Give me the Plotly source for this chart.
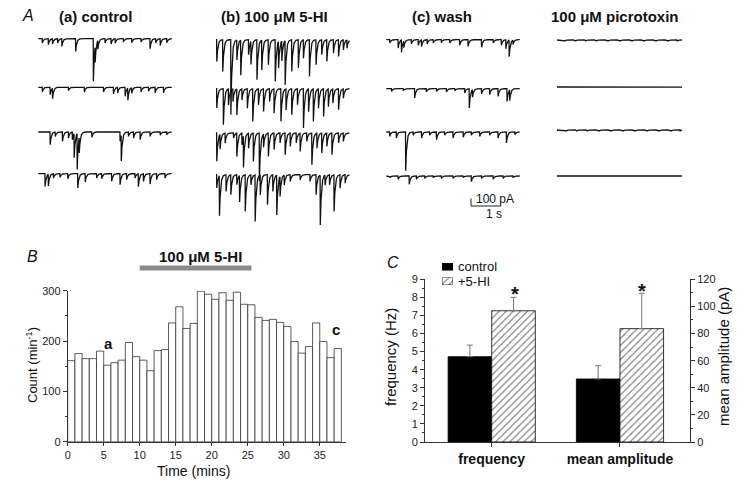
import numpy as np
import plotly.graph_objects as go

W, H = 750, 482
FONT = "Liberation Sans, Arial, sans-serif"

# ---------------- Panel A: event lists (time in s, amplitude in pA) ----------------
ctrl_t = [
    [0.13,0.33,0.47,0.64,0.78,1.24,1.83,1.89,1.98,2.22,2.42,2.56,2.83,3.11,3.42,3.72,3.91,4.06,4.28],
    [0.13,0.39,0.47,1.00,1.53,2.17,2.50,2.64,2.89,2.98,3.11,3.42,3.67,3.89,4.17],
    [0.39,0.56,0.80,1.00,1.13,1.19,1.29,1.36,1.78,2.72,2.76,3.00,3.17,3.39,3.72,4.06,4.28],
    [0.22,0.33,0.50,0.72,0.98,1.31,1.56,1.94,2.11,2.44,2.72,2.94,3.22,3.33,3.50,3.72,3.94,4.22],
]
ctrl_a = [
    [58,80,71,58,102,169,568,213,115,58,71,58,44,53,44,133,58,89,53],
    [62,98,142,44,62,62,89,75,120,164,75,62,53,75,75],
    [169,58,124,80,102,324,480,213,71,124,346,58,80,102,58,44,36],
    [169,155,58,49,67,191,111,58,67,102,147,80,58,169,102,138,80,58],
]
hi_t = [
    [0.02,0.22,0.49,0.69,0.82,1.08,1.16,1.36,1.52,1.74,1.97,2.08,2.19,2.30,2.52,2.74,2.91,3.11,3.33,3.52,3.69,3.91,4.08,4.24,4.36],
    [0.02,0.24,0.41,0.56,0.69,0.86,1.04,1.22,1.41,1.58,1.78,1.93,2.16,2.33,2.52,2.71,2.91,3.08,3.24,3.41,3.58,3.74,3.89,4.08,4.24],
    [0.02,0.13,0.30,0.58,0.69,0.86,0.91,1.08,1.24,1.44,1.58,1.74,1.93,2.13,2.30,2.47,2.67,2.80,3.02,3.19,3.36,3.52,3.69,3.86,4.08,4.24],
    [0.02,0.11,0.33,0.49,0.69,0.78,0.97,1.16,1.30,1.47,1.71,1.89,2.02,2.13,2.27,2.47,2.80,3.13,3.33,3.47,3.63,3.78,3.93,4.13,4.30],
]
hi_a = [
    [289,422,1000,266,466,200,311,533,400,333,555,355,266,590,422,377,244,488,333,200,289,178,222,133,111],
    [258,480,213,169,346,147,258,435,213,302,169,324,435,280,346,213,524,302,435,258,369,235,191,280,124],
    [377,200,133,67,311,155,422,200,377,640,178,311,222,133,289,178,133,244,111,422,200,266,178,289,133,111],
    [178,533,222,266,133,355,488,133,622,266,400,222,533,266,133,89,67,89,266,666,133,133,488,178,111],
]
wash_t = [
    [0.11,0.39,0.50,0.58,0.83,1.06,1.17,1.36,1.56,1.83,2.11,2.44,2.72,3.17,3.56,3.83,3.98,4.09,4.22],
    [0.17,0.56,0.94,1.33,1.67,2.00,2.28,2.61,2.76,2.87,3.17,3.44,3.72,4.02,4.11],
    [0.11,0.33,0.64,0.89,1.17,1.44,1.67,1.94,2.22,2.56,2.83,3.11,3.44,3.72,4.00,4.28],
    [0.11,0.39,0.76,1.00,1.28,1.56,1.83,2.22,2.56,2.83,3.17,3.56,3.89,4.22],
]
wash_a = [
    [44,111,164,89,58,75,89,58,44,40,44,75,89,102,44,75,120,222,58],
    [36,27,124,44,36,44,27,58,258,102,71,80,102,169,147],
    [58,80,515,44,80,44,102,44,80,71,44,58,44,80,147,36],
    [22,44,111,44,31,22,31,31,22,75,31,44,31,22],
]
picro_t = [
    [0.25,0.60,0.95,1.30,1.70,2.10,2.50,2.90,3.30,3.70,4.00],
    [0.20,0.55,0.90,1.35,1.75,2.15,2.55,2.95,3.35,3.75,4.05],
    [0.30,0.65,1.00,1.40,1.80,2.20,2.60,3.00,3.40,3.80,4.10],
    [0.15,0.50,0.85,1.25,1.65,2.05,2.45,2.85,3.25,3.65,4.00],
]
picro_a = [[12]*11, [10]*11, [12]*11, [10]*11]

col_titles = ["<b>(a) control</b>", "<b>(b) 100 μM 5-HI</b>", "<b>(c) wash</b>", "<b>100 μM picrotoxin</b>"]

# ---------------- Panel B ----------------
minutes = list(range(38))
counts = [161,175,165,165,180,152,157,162,197,169,162,141,181,183,236,268,225,235,299,293,
          283,296,281,297,273,272,247,241,243,237,229,199,176,189,236,199,167,185]
drug_on, drug_off = 10, 25.5

# ---------------- Panel C ----------------
groups = ["frequency", "mean amplitude"]
series = ["control", "+5-HI"]
freq_vals = [4.72, 7.26]     # Hz: control, +5-HI
freq_err = [0.64, 0.74]
amp_vals = [46.5, 83.6]      # pA: control, +5-HI
amp_err = [9.8, 26.1]

# ---------------- helpers ----------------
def px(x):
    return x / W

def py(y):
    return 1 - y / H

PX_PER_S = 30.0
PA_PER_PX = 100 / 7.5
RISE, TAU = 0.006, 0.035

def build(times, amps, length, dt=0.0025):
    t = np.arange(0, length, dt)
    t = np.union1d(t, np.array(times) + RISE)
    y = np.zeros_like(t)
    for ti, a in zip(times, amps):
        d = t - ti
        k = np.where(d < 0, 0.0, np.where(d < RISE, d / RISE, np.exp(-(d - RISE) / TAU)))
        y += a * k
    return t, y

fig = go.Figure()

columns = [
    (ctrl_t, ctrl_a, 38.3, 4.45, [38.7, 87.3, 132, 173.7]),
    (hi_t, hi_a, 216, 4.45, [39.7, 88.7, 133, 174.7]),
    (wash_t, wash_a, 386.3, 4.45, [39.7, 88.7, 132, 176]),
    (picro_t, picro_a, 557, 4.17, [40, 87, 130, 176]),
]
for tl, al, x0, length, bases in columns:
    for tt, aa, b in zip(tl, al, bases):
        t, y = build(tt, aa, length)
        fig.add_trace(go.Scatter(x=x0 / PX_PER_S + t, y=-b * PA_PER_PX - y, mode="lines",
                                 line=dict(color="#111", width=1.3), hoverinfo="skip",
                                 showlegend=False, xaxis="x", yaxis="y"))

# Panel B bars
fig.add_trace(go.Bar(x=[m + 0.5 for m in minutes], y=counts, width=1,
                     marker=dict(color="white", line=dict(color="#333", width=0.8)),
                     showlegend=False, xaxis="x2", yaxis="y2", hoverinfo="skip"))

# Panel C bars
offs = [-0.17, 0.17]
err_style = dict(type="data", symmetric=False, color="#777", thickness=1, width=3)
ctrl_marker = dict(color="black", line=dict(color="black", width=0.8))
hi_marker = dict(color="white", pattern=dict(shape="/", fgcolor="black", bgcolor="white", size=5, solidity=0.22),
                 line=dict(color="black", width=0.8))
markers = [ctrl_marker, hi_marker]
for i in range(2):
    fig.add_trace(go.Bar(x=[0 + offs[i]], y=[freq_vals[i]], width=0.34, name=series[i], showlegend=False,
                         marker=markers[i], error_y=dict(array=[freq_err[i]], arrayminus=[0], **err_style),
                         xaxis="x3", yaxis="y3", hoverinfo="skip"))
    fig.add_trace(go.Bar(x=[1 + offs[i]], y=[amp_vals[i]], width=0.34, name=series[i], showlegend=False,
                         marker=markers[i], error_y=dict(array=[amp_err[i]], arrayminus=[0], **err_style),
                         xaxis="x3", yaxis="y4", hoverinfo="skip"))

# legend swatches (drawn as bars on tiny hidden axes)
fig.add_trace(go.Bar(x=[0.5], y=[1], width=1, marker=ctrl_marker, showlegend=False, hoverinfo="skip",
                     xaxis="x5", yaxis="y5"))
fig.add_trace(go.Bar(x=[0.5], y=[1], width=1, marker=hi_marker, showlegend=False, hoverinfo="skip",
                     xaxis="x6", yaxis="y6"))

ax_common = dict(showline=True, linecolor="#333", linewidth=1, ticks="outside", ticklen=4,
                 tickcolor="#333", tickfont=dict(size=11, color="#222"), showgrid=False, zeroline=False)
hidden = dict(visible=False, range=[0, 1], fixedrange=True)

fig.update_layout(
    width=W, height=H, margin=dict(l=0, r=0, t=0, b=0, autoexpand=False),
    paper_bgcolor="white", plot_bgcolor="white",
    font=dict(family=FONT, color="#111"),
    barmode="overlay", bargap=0, showlegend=False,
    xaxis=dict(domain=[0, 1], range=[0, W / PX_PER_S], visible=False, fixedrange=True),
    yaxis=dict(domain=[py(230), 1], range=[-230 * PA_PER_PX, 0], visible=False, fixedrange=True),
    xaxis2=dict(domain=[px(67.7), px(345.7)], range=[0, 38.6], anchor="y2",
                tickvals=[0, 5, 10, 15, 20, 25, 30, 35], **{**ax_common, "ticklen": 3}),
    yaxis2=dict(domain=[py(441.7), py(290.7)], range=[0, 300], anchor="x2",
                tickvals=[0, 100, 200, 300], minor=dict(tickvals=[50, 150, 250], ticks="outside", ticklen=2, tickcolor="#333"),
                **ax_common),
    xaxis3=dict(domain=[px(425), px(690)], range=[-0.52, 1.546], anchor="y3",
                tickvals=[0, 1], ticktext=["<b>%s</b>" % g for g in groups],
                **{**ax_common, "tickfont": dict(size=14, color="#111")}),
    yaxis3=dict(domain=[py(442), py(279.3)], range=[0, 9], anchor="x3", dtick=1,
                minor=dict(dtick=0.5, ticks="outside", ticklen=2, tickcolor="#333"), **ax_common),
    yaxis4=dict(domain=[py(442), py(279.3)], range=[0, 120], anchor="x3", overlaying="y3", side="right",
                dtick=20, minor=dict(dtick=10, ticks="outside", ticklen=2, tickcolor="#333"), **ax_common),
    xaxis5=dict(domain=[px(442), px(453)], anchor="y5", **hidden),
    yaxis5=dict(domain=[py(270.5), py(263)], anchor="x5", **hidden),
    xaxis6=dict(domain=[px(442), px(453)], anchor="y6", **hidden),
    yaxis6=dict(domain=[py(285), py(277.5)], anchor="x6", **hidden),
)

ann = []
def text(x, y, s, size=13, xanchor="center", **kw):
    ann.append(dict(x=px(x), y=py(y), xref="paper", yref="paper", text=s, showarrow=False,
                    xanchor=xanchor, yanchor="middle",
                    font=dict(size=size, family=FONT, color="#111"), **kw))

text(28, 15, "<i>A</i>", 16)
text(32, 256, "<i>B</i>", 16)
text(393, 262, "<i>C</i>", 16)
for s, cx in zip(col_titles, [95, 274, 441.5, 615]):
    text(cx, 17, s, 15)
text(474, 199, "100 pA", 12, xanchor="left")
text(493.5, 214, "1 s", 12)
text(200, 256, "<b>100 μM 5-HI</b>", 15)
text(32, 365, "Count (min<sup>-1</sup>)", 13, textangle=-90)
text(193, 471, "Time (mins)", 14)
text(390, 357, "frequency (Hz)", 15, textangle=-90)
text(723, 357, "mean amplitude (pA)", 15, textangle=-90)
text(515, 294, "<b>*</b>", 20)
text(641.7, 291, "<b>*</b>", 20)
text(456, 266, series[0], 13, xanchor="left")
text(456, 281, series[1], 13, xanchor="left")
fig.update_layout(annotations=ann)

# letters on histogram
for lab, xm, yc in [("a", 5.6, 196), ("b", 20.6, 307), ("c", 37.3, 223)]:
    fig.add_annotation(x=xm, y=yc, xref="x2", yref="y2", text="<b>%s</b>" % lab, showarrow=False,
                       font=dict(size=15, family=FONT, color="#111"))

# drug application bar
fig.add_shape(type="line", xref="x2", yref="paper", x0=drug_on, x1=drug_off, y0=py(268), y1=py(268),
              line=dict(color="#8a8a8a", width=5))
# scale bar
sx = 471 / PX_PER_S
sy = -206 * PA_PER_PX
fig.add_shape(type="line", xref="x", yref="y", x0=sx, x1=sx, y0=sy, y1=sy + 100, line=dict(color="#222", width=1))
fig.add_shape(type="line", xref="x", yref="y", x0=sx, x1=sx + 1, y0=sy, y1=sy, line=dict(color="#222", width=1))

fig.write_html("out.html", config={"displayModeBar": False, "staticPlot": True},
               post_script="document.body.style.margin='0';document.body.style.padding='0';")
